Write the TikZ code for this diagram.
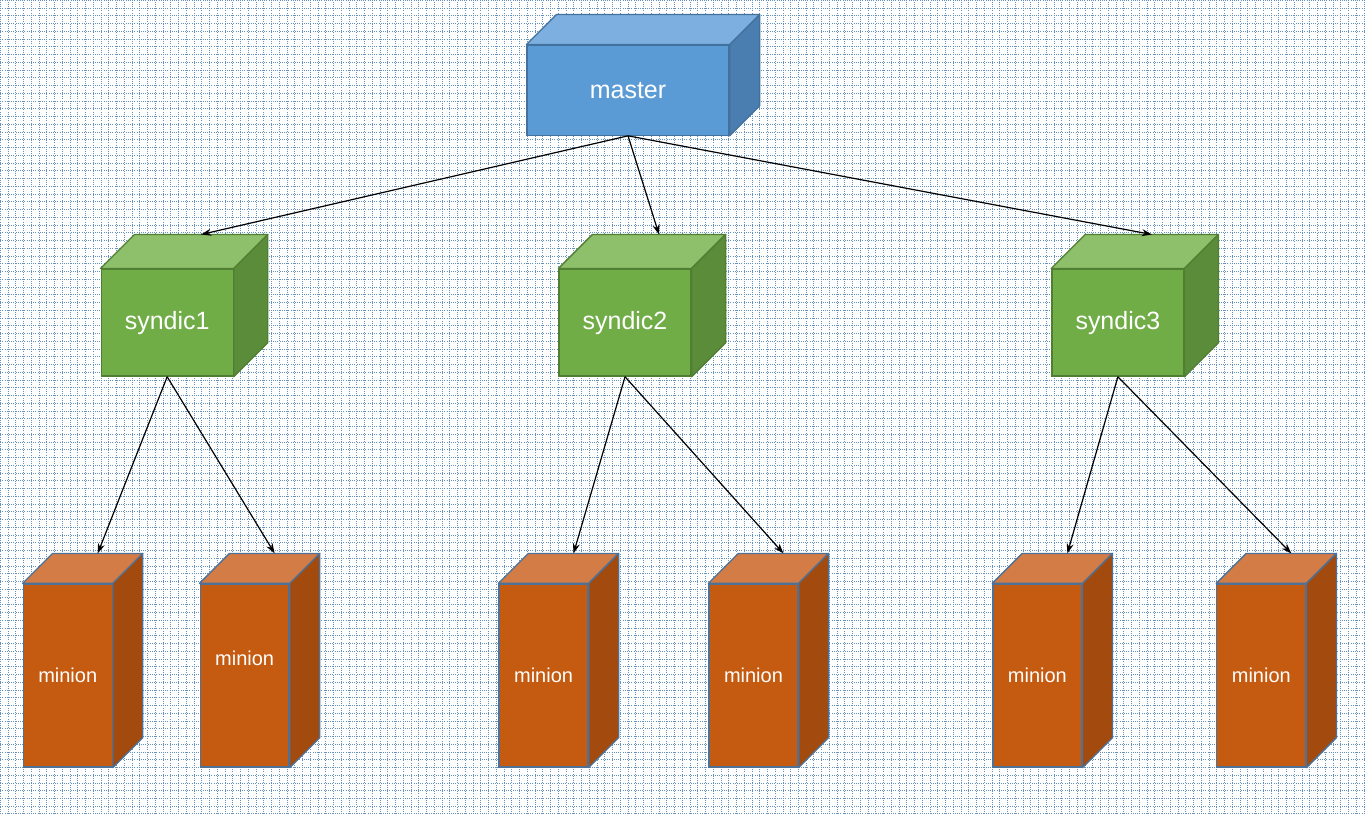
\documentclass[tikz,border=0pt]{standalone}
\usepackage{fontspec}
\setmainfont{Liberation Sans}
\usetikzlibrary{arrows.meta}
\definecolor{griglia}{RGB}{100,145,188}
\definecolor{bluF}{RGB}{91,155,213}
\definecolor{bluT}{RGB}{125,176,224}
\definecolor{bluS}{RGB}{74,126,176}
\definecolor{bluB}{RGB}{65,113,156}
\definecolor{verF}{RGB}{112,173,71}
\definecolor{verT}{RGB}{142,191,106}
\definecolor{verS}{RGB}{90,140,57}
\definecolor{verB}{RGB}{80,126,50}
\definecolor{ranF}{RGB}{197,90,17}
\definecolor{ranT}{RGB}{212,124,70}
\definecolor{ranS}{RGB}{163,74,14}
\definecolor{ranB}{RGB}{77,113,151}
\begin{document}
\begin{tikzpicture}[
			x=1pt, y=-1pt,
			cubo/.style={rectangle, inner sep=0pt, line width=1.3pt,
				text=white},
			capo/.style={cubo, draw=bluB, fill=bluF,
				minimum width=202, minimum height=90,
				font=\fontsize{25}{30}\selectfont},
			sindaco/.style={cubo, draw=verB, fill=verF,
				minimum width=132, minimum height=107,
				font=\fontsize{25}{30}\selectfont},
			servo/.style={cubo, draw=ranB, fill=ranF,
				minimum width=89, minimum height=183,
				font=\fontsize{20}{24}\selectfont},
			faccia/.style={line width=1.3pt, line join=round},
			freccia/.style={line width=1.2pt, black,
				-{Stealth[length=10pt, width=7pt]}},
			]
			\fill[white](0,0) rectangle (1366,814);
			\draw[griglia, line width=0.45pt, dash pattern=on 0.8pt off 1.4pt,
				step=7.75pt](0,814) grid (1366,0);
			\useasboundingbox (0,0) rectangle (1366,814);
			
			\node[capo] (ma) at (628,90) {master};
			
			\node[sindaco] (s1) at (167,322.5) {syndic1};
			\node[sindaco] (s2) at (625,322.5) {syndic2};
			\node[sindaco] (s3) at (1118,322.5) {syndic3};
			
			\node[servo] (m1) at (67.5,675.5) {minion};
			\node[servo, text depth=34pt] (m2) at (244.5,675.5) {minion};
			\node[servo] (m3) at (543.5,675.5) {minion};
			\node[servo] (m4) at (753.5,675.5) {minion};
			\node[servo] (m5) at (1037.5,675.5) {minion};
			\node[servo] (m6) at (1261.5,675.5) {minion};
			
			\foreach \n/\d/\ct/\cs/\cb in {ma/30/bluT/bluS/bluB,
				s1/34/verT/verS/verB, s2/34/verT/verS/verB,
				s3/34/verT/verS/verB, m1/30/ranT/ranS/ranB,
				m2/30/ranT/ranS/ranB, m3/30/ranT/ranS/ranB,
				m4/30/ranT/ranS/ranB, m5/30/ranT/ranS/ranB,
				m6/30/ranT/ranS/ranB}{
				\draw[faccia, draw=\cb, fill=\ct](\n.north west)--++(\d,-\d)
				--([shift={(\d,-\d)}]\n.north east)--(\n.north east)--cycle;
				\draw[faccia, draw=\cb, fill=\cs](\n.north east)--++(\d,-\d)
				--([shift={(\d,-\d)}]\n.south east)--(\n.south east)--cycle;
				\coordinate (\n t) at ([shift={(\d,-\d)}]\n.north);
			}
			
			\draw[freccia](ma.south)--(s1t);
			\draw[freccia](ma.south)--(s2t);
			\draw[freccia](ma.south)--(s3t);
			\draw[freccia](s1.south)--(m1t);
			\draw[freccia](s1.south)--(m2t);
			\draw[freccia](s2.south)--(m3t);
			\draw[freccia](s2.south)--(m4t);
			\draw[freccia](s3.south)--(m5t);
			\draw[freccia](s3.south)--(m6t);
		\end{tikzpicture}
\end{document}
